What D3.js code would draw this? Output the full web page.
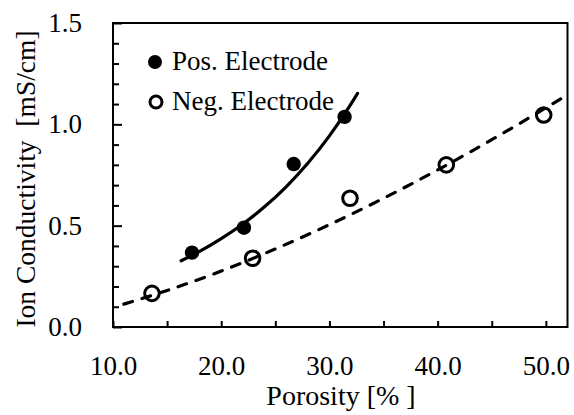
<!DOCTYPE html>
<html><head><meta charset="utf-8">
<script src="https://cdn.jsdelivr.net/npm/d3@7"></script>
<style>body{margin:0;background:#fff}svg{display:block}text{font-family:"Liberation Serif","Times New Roman",serif;fill:#000}</style>
</head><body>
<svg id="c" width="574" height="415"></svg>
<script>
// Data
const posPorosity = [17.3, 22.1, 26.7, 31.4];
const posConductivity = [0.367, 0.49, 0.804, 1.037];
const negPorosity = [13.6, 22.9, 31.9, 40.8, 49.8];
const negConductivity = [0.166, 0.339, 0.635, 0.80, 1.046];
// Trendlines
const posFitX = [16.3, 18, 20, 22, 24, 26, 28, 30, 32, 32.6];
const posFitY = [0.327, 0.373, 0.436, 0.508, 0.593, 0.692, 0.808, 0.943, 1.101, 1.153];
const negFitX = [11, 15, 20, 25, 30, 35, 40, 45, 52];
const negFitY = [0.113, 0.180, 0.276, 0.385, 0.505, 0.635, 0.775, 0.924, 1.146];
const xTicks = [10, 20, 30, 40, 50];
const xMinorTicks = [15, 25, 35, 45];
const yTicks = [0, 0.5, 1.0, 1.5];
const yMinorTicks = [0.1,0.2,0.3,0.4,0.6,0.7,0.8,0.9,1.1,1.2,1.3,1.4];
const legendLabels = ["Pos. Electrode", "Neg. Electrode"];

const L = 113, R = 567.5, T = 23, B = 327;
const FS = 27;
const svg = d3.select("#c");
const x = d3.scaleLinear().domain([10, 52]).range([L, R]);
const y = d3.scaleLinear().domain([0, 1.5]).range([B, T]);

const defs = svg.append("defs");
defs.append("clipPath").attr("id","clip").append("rect").attr("x",L).attr("y",T).attr("width",R-L).attr("height",B-T);

// frame
svg.append("rect").attr("x",L).attr("y",T).attr("width",R-L).attr("height",B-T)
  .attr("fill","none").attr("stroke","#000").attr("stroke-width",2);

// x axis
const xAxis = d3.axisBottom(x).tickValues(xTicks).tickSize(-6).tickPadding(29).tickFormat(d3.format(".1f"));
const gx = svg.append("g").attr("transform",`translate(0,${B})`).call(xAxis);
gx.select(".domain").remove();
gx.selectAll(".tick line").attr("stroke-width",2);
gx.selectAll("text").attr("font-size",FS);
const gxm = svg.append("g").attr("transform",`translate(0,${B})`).call(d3.axisBottom(x).tickValues(xMinorTicks).tickSize(-6).tickFormat(""));
gxm.select(".domain").remove();
gxm.selectAll(".tick line").attr("stroke-width",2);

// y axis
const yAxis = d3.axisLeft(y).tickValues(yTicks).tickSize(-9).tickPadding(31).tickFormat(d3.format(".1f"));
const gy = svg.append("g").attr("transform",`translate(${L},0)`).call(yAxis);
gy.select(".domain").remove();
gy.selectAll(".tick line").attr("stroke-width",2);
gy.selectAll("text").attr("font-size",FS);
const gym = svg.append("g").attr("transform",`translate(${L},0)`).call(d3.axisLeft(y).tickValues(yMinorTicks).tickSize(-6).tickFormat(""));
gym.select(".domain").remove();
gym.selectAll(".tick line").attr("stroke-width",2);

// titles
svg.append("text").attr("x",341).attr("y",405).attr("text-anchor","middle").attr("font-size",28)
  .style("white-space","pre").text("Porosity [% ]");
svg.append("text").attr("transform","translate(35,179) rotate(-90)").attr("text-anchor","middle").attr("font-size",27.5)
  .style("white-space","pre").text("Ion Conductivity  [mS/cm]");

const plot = svg.append("g").attr("clip-path","url(#clip)");
const line = d3.line().x(d=>x(d[0])).y(d=>y(d[1])).curve(d3.curveMonotoneX);

plot.append("path").datum(negFitX.map((v,i)=>[v,negFitY[i]])).attr("d",line)
  .attr("fill","none").attr("stroke","#000").attr("stroke-width",3.2)
  .attr("stroke-dasharray","9,10").attr("stroke-linecap","round");
plot.append("path").datum(posFitX.map((v,i)=>[v,posFitY[i]])).attr("d",line)
  .attr("fill","none").attr("stroke","#000").attr("stroke-width",3.2).attr("stroke-linecap","round");

plot.selectAll(".neg").data(negPorosity.map((v,i)=>[v,negConductivity[i]])).enter().append("circle")
  .attr("cx",d=>x(d[0])).attr("cy",d=>y(d[1])).attr("r",7.3)
  .attr("fill","none").attr("stroke","#000").attr("stroke-width",3);
plot.selectAll(".pos").data(posPorosity.map((v,i)=>[v,posConductivity[i]])).enter().append("circle")
  .attr("cx",d=>x(d[0])).attr("cy",d=>y(d[1])).attr("r",7.2).attr("fill","#000");

// legend
const lg = svg.append("g");
lg.append("circle").attr("cx",155).attr("cy",62).attr("r",7).attr("fill","#000");
lg.append("circle").attr("cx",156).attr("cy",102).attr("r",6).attr("fill","none").attr("stroke","#000").attr("stroke-width",3);
lg.selectAll("text").data(legendLabels).enter().append("text")
  .attr("x",172).attr("y",(d,i)=>70+i*40).attr("font-size",FS).text(d=>d);
</script>
</body></html>
